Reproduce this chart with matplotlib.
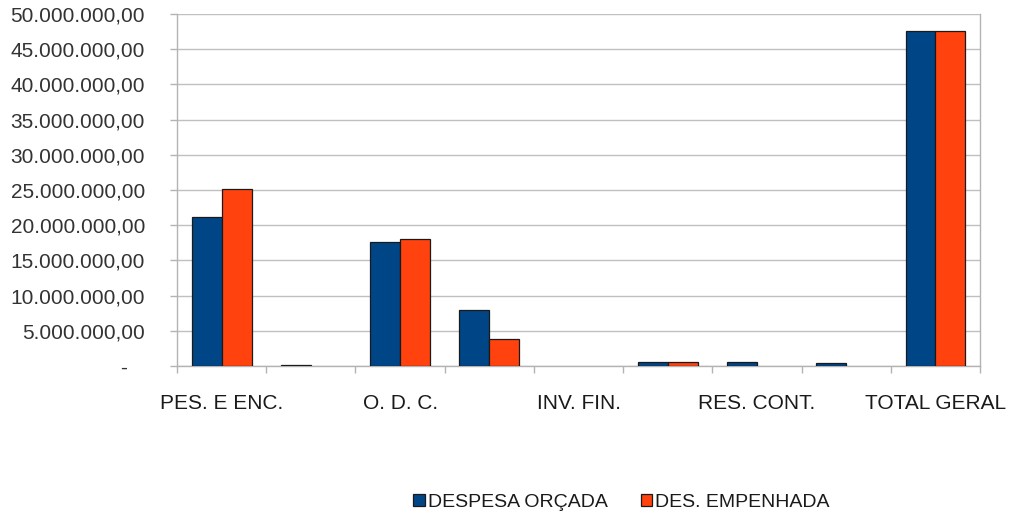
import numpy as np
import matplotlib.pyplot as plt
from matplotlib.ticker import FuncFormatter, MultipleLocator, FixedLocator

# --- dados ---
categorias = ["PES. E ENC.", "JUR. E ENC.", "O. D. C.", "INVEST.", "INV. FIN.",
              "AMORT.", "RES. CONT.", "RES. RPPS", "TOTAL GERAL"]
despesa_orcada = [21200000, 150000, 17650000, 7950000, 0, 550000, 550000, 400000, 47600000]
des_empenhada = [25100000, 0, 18050000, 3800000, 0, 550000, 0, 0, 47600000]
rotulos_visiveis = [0, 2, 4, 6, 8]

cor_azul = '#004586'
cor_laranja = '#ff420e'

plt.rcParams['font.family'] = ['Liberation Sans', 'DejaVu Sans']

fig = plt.figure(figsize=(10.14, 5.13), dpi=100)
ax = fig.add_axes([0.1746, 0.2865, 0.9665 - 0.1746, 0.9727 - 0.2865])

x = np.arange(len(categorias))
w = 0.335
# valores zero não aparecem no original (sem contorno)
orc = np.where(np.array(despesa_orcada) == 0, np.nan, despesa_orcada)
emp = np.where(np.array(des_empenhada) == 0, np.nan, des_empenhada)
ax.bar(x - w / 2, orc, w, color=cor_azul, edgecolor='#1a1a1a',
       linewidth=0.9, label='DESPESA ORÇADA', zorder=3)
ax.bar(x + w / 2, emp, w, color=cor_laranja, edgecolor='#1a1a1a',
       linewidth=0.9, label='DES. EMPENHADA', zorder=3)

ax.set_xlim(-0.5, len(categorias) - 0.5)
ax.set_ylim(0, 50000000)

# eixo y
def fmt_y(v, pos):
    if v == 0:
        return '-   '
    s = f"{v:,.2f}"
    return s.replace(',', 'X').replace('.', ',').replace('X', '.')

ax.yaxis.set_major_locator(MultipleLocator(5000000))
ax.yaxis.set_major_formatter(FuncFormatter(fmt_y))
ax.tick_params(axis='y', length=5, width=1, color='#b3b3b3', pad=18,
               labelsize=15, labelcolor='#333333')
ax.yaxis.grid(True, color='#c0c0c0', linewidth=1, zorder=0)

# eixo x: rótulos no centro, marcas nos limites das categorias
ax.set_xticks([x[i] for i in rotulos_visiveis])
ax.set_xticklabels([categorias[i] for i in rotulos_visiveis])
ax.xaxis.set_minor_locator(FixedLocator(np.arange(-0.5, len(categorias), 1.0)))
ax.tick_params(axis='x', which='major', length=0, pad=20, labelsize=15,
               labelcolor='#1a1a1a')
ax.tick_params(axis='x', which='minor', length=5, width=1, color='#b3b3b3')

for lado in ['left', 'bottom', 'right']:
    ax.spines[lado].set_color('#b3b3b3')
    ax.spines[lado].set_linewidth(1)
ax.spines['top'].set_visible(False)

fig.legend(loc='center', bbox_to_anchor=(0.613, 0.021), ncol=2, frameon=False,
           fontsize=14, handlelength=0.6, handleheight=0.6, handletextpad=0.15,
           columnspacing=1.7, labelcolor='#1a1a1a')

fig.savefig('out.png', dpi=100)
